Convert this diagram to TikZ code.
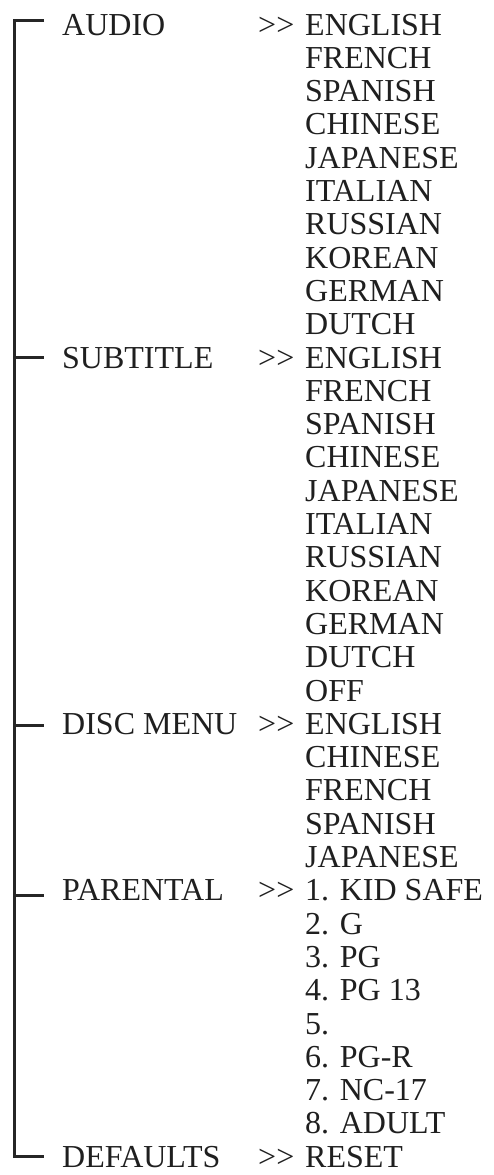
\documentclass[tikz,border=0pt]{standalone}
\usepackage{fontspec}
\setmainfont{Liberation Serif}[Ligatures=NoCommon]
\begin{document}
\begin{tikzpicture}[x=1pt,y=-1pt,
  txt/.style={anchor=base west, inner sep=0pt, text=black!88, font=\fontsize{32}{34}\selectfont},
  trunk/.style={line width=3pt, draw=black!85, line cap=butt, line join=miter}]
\useasboundingbox (0,0) rectangle (493,1175);
\def\ry#1{35+33.3*(#1)}
\def\gg{{>}\kern0pt{>}}
% categories
\node[txt] (audio) at (62,{\ry{0}}) {AUDIO};
\node[txt] (subtitle) at (62,{\ry{10}}) {SUBTITLE};
\node[txt] (disc) at (62,{\ry{21}}) {DISC MENU};
\node[txt] (parental) at (62,{\ry{26}}) {PARENTAL};
\node[txt] (defaults) at (62,{\ry{34}}) {DEFAULTS};
% arrows >>
\node[txt] (ga) at (258,{\ry{0}}) {\gg};
\node[txt] (gs) at (258,{\ry{10}}) {\gg};
\node[txt] (gd) at (258,{\ry{21}}) {\gg};
\node[txt] (gp) at (258,{\ry{26}}) {\gg};
\node[txt] (gf) at (258,{\ry{34}}) {\gg};
% options
\foreach \t [count=\i from 0] in {ENGLISH,FRENCH,SPANISH,CHINESE,JAPANESE,ITALIAN,RUSSIAN,KOREAN,GERMAN,DUTCH}
  \node[txt] (a\i) at (305,{\ry{\i}}) {\t};
\foreach \t [count=\i from 0] in {ENGLISH,FRENCH,SPANISH,CHINESE,JAPANESE,ITALIAN,RUSSIAN,KOREAN,GERMAN,DUTCH,OFF}
  \node[txt] (s\i) at (305,{\ry{10+\i}}) {\t};
\foreach \t [count=\i from 0] in {ENGLISH,CHINESE,FRENCH,SPANISH,JAPANESE}
  \node[txt] (d\i) at (305,{\ry{21+\i}}) {\t};
\foreach \t [count=\i from 0] in {1. KID SAFE,2. G,3. PG,4. PG 13,5.,6. PG-R,7. NC-17,8. ADULT}
  \node[txt] (p\i) at (305,{\ry{26+\i}}) {\t};
\node[txt] (r0) at (305,{\ry{34}}) {RESET};
% tree lines
\coordinate (ja) at (14,20.5);  \coordinate (ea) at (44,20.5);
\coordinate (js) at (14,357);   \coordinate (es) at (44,357);
\coordinate (jd) at (14,725);   \coordinate (ed) at (44,725);
\coordinate (jp) at (14,895);   \coordinate (ep) at (44,895);
\coordinate (jf) at (14,1156);  \coordinate (ef) at (44,1156);
\draw[trunk] (ea) -- (ja) -- (jf) -- (ef);
\draw[trunk] (js) -- (es);
\draw[trunk] (jd) -- (ed);
\draw[trunk] (jp) -- (ep);
\end{tikzpicture}
\end{document}
